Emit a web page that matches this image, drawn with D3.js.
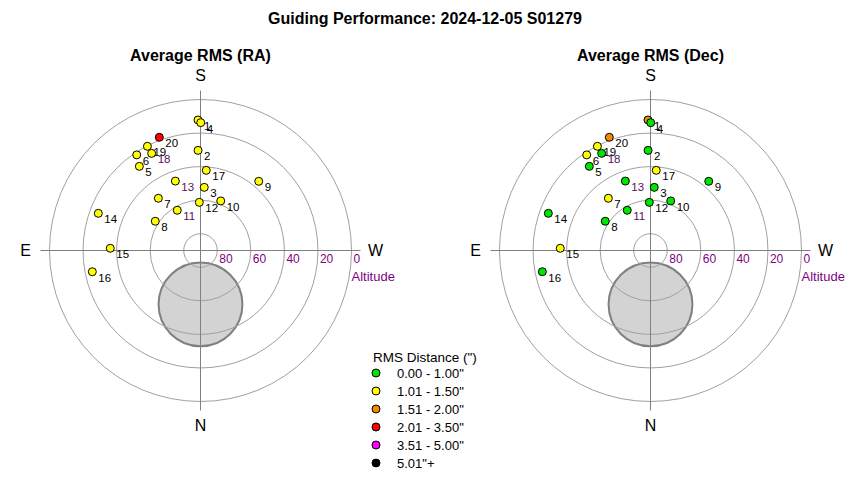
<!DOCTYPE html>
<html>
<head>
<meta charset="utf-8">
<script src="https://cdn.jsdelivr.net/npm/d3@7"></script>
<style>
  body { margin: 0; background: #fff; }
  text { font-family: "Liberation Sans", Arial, sans-serif; }
</style>
</head>
<body>
<svg id="chart"></svg>
<script>
// frame numbers and where the scope pointed (degrees)
const pointIds = [1, 2, 3, 4, 5, 6, 7, 8, 9, 10, 11, 12, 13, 14, 15, 16, 17, 18, 19, 20];
const azimuth  = [178.9, 178.6, 183.4, 180.1, 144.0, 146.3, 141.1, 122.9, 220.1, 202.2,
                  150.0, 178.6, 160.1, 110.0, 91.4, 78.9, 184.1, 153.3, 153.0, 160.0];
const altitude = [12.2, 30.3, 52.3, 13.8, 28.0, 21.5, 50.0, 57.9, 36.1, 58.1,
                  62.3, 61.3, 46.0, 25.2, 36.2, 24.3, 42.1, 25.2, 20.3, 18.2];

// RMS class of each frame (index into the legend)
const raBin  = [1, 1, 1, 1, 1, 1, 1, 1, 1, 1, 1, 1, 1, 1, 1, 1, 1, 1, 1, 3];
const decBin = [2, 0, 0, 0, 0, 1, 1, 0, 0, 0, 0, 0, 0, 0, 1, 0, 1, 0, 1, 2];

const binLabels = ['0.00 - 1.00"', '1.01 - 1.50"', '1.51 - 2.00"', '2.01 - 3.50"', '3.51 - 5.00"', '5.01"+'];
const binColors = ["#00e600", "#ffff00", "#f08c00", "#ff0000", "#ff00ff", "#000000"];

const altTicks = [80, 60, 40, 20, 0];
const compass = [
  {name: "N", az: 0},
  {name: "E", az: 90},
  {name: "S", az: 180},
  {name: "W", az: 270}
];
// grey disc drawn below the zenith
const keepOut = {az: 0, alt: 57.9, size: 25};
const purpleLabels = [11, 13, 18];

let width = 850;
let height = 480;

let svg = d3.select("#chart")
  .attr("width", width)
  .attr("height", height);

svg.append("text")
  .attr("x", width / 2)
  .attr("y", 24)
  .attr("text-anchor", "middle")
  .attr("font-size", 16)
  .attr("font-weight", "bold")
  .text("Guiding Performance: 2024-12-05 S01279");

let r = d3.scaleLinear().domain([90, 0]).range([0, 151]);

function project(cx, cy, az, alt) {
  let a = az * Math.PI / 180;
  let d = r(alt);
  return [cx - d * Math.sin(a), cy + d * Math.cos(a)];
}

function drawPolar(cx, cy, title, bins) {
  let g = svg.append("g");

  g.append("text")
    .attr("x", cx)
    .attr("y", cy - 190)
    .attr("text-anchor", "middle")
    .attr("font-size", 16)
    .attr("font-weight", "bold")
    .text(title);

  // keep-out disc
  let k = project(cx, cy, keepOut.az, keepOut.alt);
  g.append("circle")
    .attr("cx", k[0])
    .attr("cy", k[1])
    .attr("r", r(90 - keepOut.size))
    .attr("fill", "#d3d3d3")
    .attr("stroke", "#808080")
    .attr("stroke-width", 2);

  g.selectAll("circle.ring")
    .data(altTicks)
    .enter()
    .append("circle")
      .attr("class", "ring")
      .attr("cx", cx)
      .attr("cy", cy)
      .attr("r", d => r(d))
      .attr("fill", "none")
      .attr("stroke", "#a0a0a0")
      .attr("stroke-width", 1);

  let ext = 160;
  g.append("line")
    .attr("x1", cx).attr("x2", cx)
    .attr("y1", cy - ext).attr("y2", cy + ext)
    .attr("stroke", "#808080");
  g.append("line")
    .attr("x1", cx - ext).attr("x2", cx + ext)
    .attr("y1", cy).attr("y2", cy)
    .attr("stroke", "#808080");

  g.selectAll("text.alt")
    .data(altTicks)
    .enter()
    .append("text")
      .attr("class", "alt")
      .attr("x", d => cx + r(d) + 2)
      .attr("y", cy + 12)
      .attr("font-size", 12)
      .attr("fill", "#800080")
      .text(d => d);

  g.append("text")
    .attr("x", cx + r(0))
    .attr("y", cy + 30)
    .attr("font-size", 13)
    .attr("fill", "#800080")
    .text("Altitude");

  g.selectAll("text.compass")
    .data(compass)
    .enter()
    .append("text")
      .attr("class", "compass")
      .attr("x", d => cx - 175 * Math.sin(d.az * Math.PI / 180))
      .attr("y", d => cy + 175 * Math.cos(d.az * Math.PI / 180))
      .attr("text-anchor", "middle")
      .attr("dominant-baseline", "central")
      .attr("font-size", 16)
      .text(d => d.name);

  let pts = pointIds.map((id, i) => {
    let p = project(cx, cy, azimuth[i], altitude[i]);
    return {id: id, x: p[0], y: p[1], bin: bins[i]};
  });

  g.selectAll("circle.pt")
    .data(pts)
    .enter()
    .append("circle")
      .attr("class", "pt")
      .attr("cx", d => d.x)
      .attr("cy", d => d.y)
      .attr("r", 4)
      .attr("fill", d => binColors[d.bin])
      .attr("stroke", "#000")
      .attr("stroke-width", 1);

  g.selectAll("text.lbl")
    .data(pts)
    .enter()
    .append("text")
      .attr("class", "lbl")
      .attr("x", d => d.x + 6)
      .attr("y", d => d.y + 10)
      .attr("font-size", 11.5)
      .attr("fill", d => purpleLabels.includes(d.id) ? "#5c0f5c" : "#000")
      .text(d => d.id);
}

drawPolar(200.5, 250.5, "Average RMS (RA)", raBin);
drawPolar(650.5, 250.5, "Average RMS (Dec)", decBin);

// legend
let legend = svg.append("g");
legend.append("text")
  .attr("x", 373)
  .attr("y", 362)
  .attr("font-size", 13.5)
  .text('RMS Distance (")');

let item = legend.selectAll("g.item")
  .data(binLabels)
  .enter()
  .append("g")
    .attr("class", "item")
    .attr("transform", (d, i) => `translate(376,${373 + i * 18})`);

item.append("circle")
  .attr("r", 4)
  .attr("fill", (d, i) => binColors[i])
  .attr("stroke", "#000")
  .attr("stroke-width", 1);

item.append("text")
  .attr("x", 21)
  .attr("y", 4.5)
  .attr("font-size", 13)
  .text(d => d);
</script>
</body>
</html>
